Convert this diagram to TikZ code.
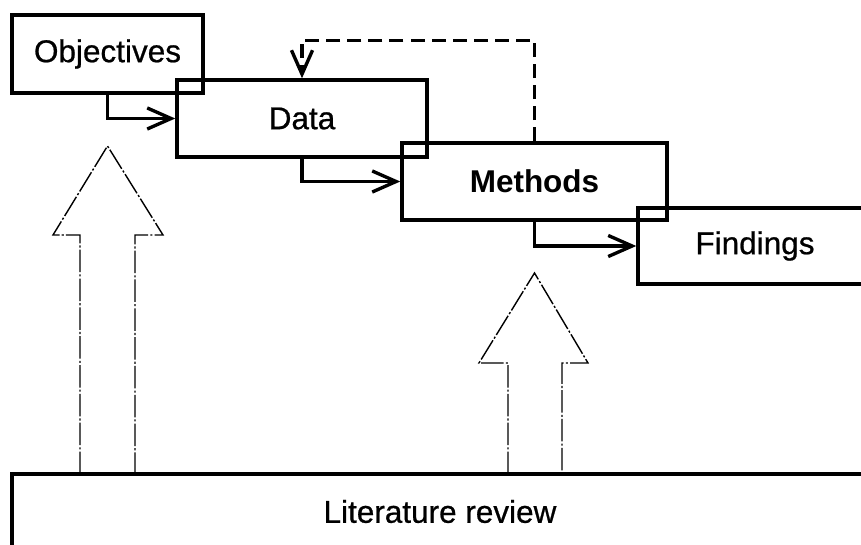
\documentclass[tikz,border=0pt]{standalone}
\usepackage{fontspec}
\setmainfont{Liberation Sans}[UprightFeatures={FakeBold=0.7}]
\usepackage{tikz}
\usetikzlibrary{arrows.meta,positioning}

\begin{document}
\begin{tikzpicture}[
  x=0.025cm, y=-0.025cm,
  every node/.style={font=\fontsize{22.4}{27}\selectfont},
  box/.style={draw=black, line width=2.4pt, align=center, inner sep=0pt},
  arr/.style={-{Straight Barb[length=17pt, width=15pt]}, line width=2.4pt},
  loopback/.style={arr, dash pattern=on 10pt off 5pt},
  hollow/.style={draw=black, line width=1pt, line join=miter, dash pattern=on 16pt off 1.5pt on 1.5pt off 1.5pt}
]
  \clip (0,0) rectangle (861,545);

  \node[box, minimum width=4.775cm, minimum height=1.95cm]  (obj)  at (107.5,54)  {Objectives};
  \node[box, minimum width=6.25cm,  minimum height=1.925cm] (data) at (302,118.5) {Data};
  \node[box, minimum width=6.625cm, minimum height=1.925cm] (meth) at (534.5,181.5) {\textbf{Methods}};
  \node[box, minimum width=5.85cm,  minimum height=1.9cm]   (find) at (755,246)   {Findings};
  \node[box, minimum width=21.4cm,  minimum height=1.875cm] (lit)  at (440,511.5) {Literature review};

  \draw[arr] (obj.south) |- (data.west);
  \draw[arr] (data.south) |- (meth.west);
  \draw[arr] (meth.south) |- (find.west);
  \draw[loopback] (meth.north) -- ++(0,-101) -| (data.north);

  \draw[hollow] (80,474) -- (80,235) -- (53,235) -- (107.5,146) -- (163,235) -- (135,235) -- (135,474);
  \draw[hollow] (508,474) -- (508,363) -- (479,363) -- (534.5,273) -- (588,363) -- (562,363) -- (562,474);
\end{tikzpicture}
\end{document}
